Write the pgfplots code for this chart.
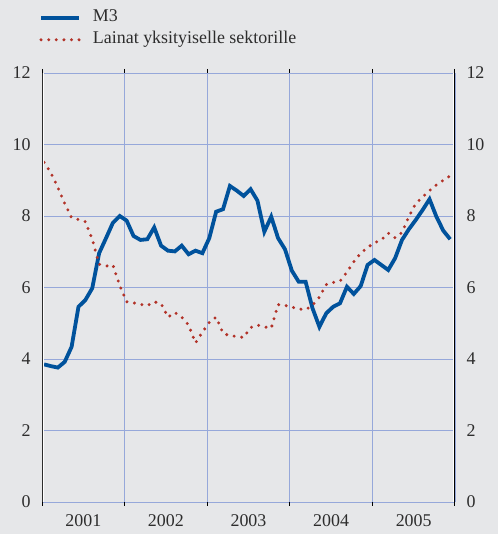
\documentclass[border=0pt]{standalone}
\usepackage{fontspec}
\setmainfont{Liberation Serif}
\usepackage{pgfplots}
\pgfplotsset{compat=1.18}
\definecolor{bgc}{RGB}{230,231,233}
\definecolor{gridc}{RGB}{150,168,218}
\definecolor{mblue}{RGB}{0,82,156}
\definecolor{dred}{RGB}{178,50,40}
\definecolor{tickc}{RGB}{45,45,45}
\begin{document}
\begin{tikzpicture}
\fill[bgc] (0,0) rectangle (498bp,534bp);
\useasboundingbox (0,0) rectangle (498bp,534bp);
\pgfplotsset{every axis/.append style={font=\fontsize{18}{21}\selectfont, /pgf/number format/assume math mode=true}}
\begin{axis}[
  at={(42bp,32bp)}, anchor=south west,
  scale only axis, width=413bp, height=429bp,
  xmin=-0.3, xmax=59.7, ymin=0, ymax=12,
  axis line style={draw=none},
  ytick={0,2,...,12}, yticklabel pos=left,
  yticklabel style={text=tickc, xshift=-8bp},
  xtick={5.7,17.7,29.7,41.7,53.7},
  xticklabels={2001,2002,2003,2004,2005},
  xticklabel style={text=tickc, yshift=-9bp},
  minor xtick={-0.3,11.7,23.7,35.7,47.7,59.7},
  major tick length=0pt, minor tick length=4bp, tick align=outside,
  minor tick style={black, line width=1bp},
  ymajorgrids, xminorgrids,
  grid style={gridc, line width=0.9bp},
  minor grid style={gridc, line width=0.9bp},
  legend style={at={(axis description cs:0,1)}, anchor=south west,
    xshift=-3bp, yshift=24bp, draw=none, fill=none, inner sep=0pt,
    row sep=4bp, column sep=11bp,
    nodes={inner sep=1bp, text height=12bp, text depth=4bp, text=tickc}},
  legend cell align=left,
  legend image code/.code={\draw[#1] (0bp,0bp) -- (38bp,0bp);},
]
\addplot[mblue, line width=3.8bp, line join=miter] coordinates {
(0,3.85)(1,3.80)(2,3.76)(3,3.92)(4,4.34)(5,5.46)(6,5.65)(7,5.98)(8,6.96)(9,7.38)
(10,7.81)(11,8.00)(12,7.87)(13,7.44)(14,7.33)(15,7.35)(16,7.68)(17,7.17)(18,7.03)(19,7.01)
(20,7.17)(21,6.93)(22,7.03)(23,6.96)(24,7.38)(25,8.12)(26,8.19)(27,8.84)(28,8.71)(29,8.56)
(30,8.75)(31,8.43)(32,7.56)(33,7.98)(34,7.38)(35,7.07)(36,6.47)(37,6.16)(38,6.16)(39,5.42)
(40,4.90)(41,5.28)(42,5.46)(43,5.56)(44,6.02)(45,5.82)(46,6.04)(47,6.63)(48,6.77)(49,6.63)
(50,6.49)(51,6.82)(52,7.33)(53,7.63)(54,7.89)(55,8.17)(56,8.47)(57,7.98)(58,7.59)(59,7.35)
};
\addlegendentry{M3}
\addplot[dred, line width=3.3bp, line cap=round, dash pattern=on 0bp off 7.6bp] coordinates {
(0,9.50)(1,9.20)(2,8.80)(3,8.35)(4,7.95)(5,7.90)(6,7.84)(7,7.35)(8,6.65)(9,6.60)
(10,6.63)(11,6.05)(12,5.60)(13,5.57)(14,5.53)(15,5.49)(16,5.60)(17,5.55)(18,5.17)(19,5.30)
(20,5.17)(21,4.95)(22,4.45)(23,4.75)(24,5.02)(25,5.17)(26,4.72)(27,4.65)(28,4.63)(29,4.60)
(30,4.88)(31,4.95)(32,4.90)(33,4.86)(34,5.52)(35,5.50)(36,5.45)(37,5.40)(38,5.38)(39,5.50)
(40,5.73)(41,6.08)(42,6.14)(43,6.18)(44,6.43)(45,6.72)(46,6.96)(47,7.12)(48,7.25)(49,7.33)
(50,7.52)(51,7.39)(52,7.54)(53,7.98)(54,8.35)(55,8.53)(56,8.71)(57,8.87)(58,9.00)(59,9.12)
};
\addlegendentry{Lainat yksityiselle sektorille}
\draw[white, line width=1.2bp] ([xshift=1.2bp]rel axis cs:0,0) -- ([xshift=1.2bp]rel axis cs:0,1);
\draw[tickc, line width=1bp] (rel axis cs:0,0) -- (rel axis cs:0,1);
\draw[white, line width=1.2bp] ([xshift=-1.2bp]rel axis cs:1,0) -- ([xshift=-1.2bp]rel axis cs:1,1);
\draw[black, line width=1.2bp] ([yshift=-3bp]rel axis cs:1,0) -- (rel axis cs:1,1);
\draw[white, line width=2bp] ([yshift=-1bp]rel axis cs:0,0) -- ([yshift=-1bp]rel axis cs:1,0);
\end{axis}
\begin{axis}[
  at={(42bp,32bp)}, anchor=south west,
  scale only axis, width=413bp, height=429bp,
  xmin=-0.3, xmax=59.7, ymin=0, ymax=12,
  axis line style={draw=none},
  ytick={0,2,...,12}, yticklabel pos=right,
  yticklabel style={text=tickc, xshift=8bp},
  xtick=\empty, major tick length=0pt,
]
\end{axis}
\end{tikzpicture}
\end{document}
